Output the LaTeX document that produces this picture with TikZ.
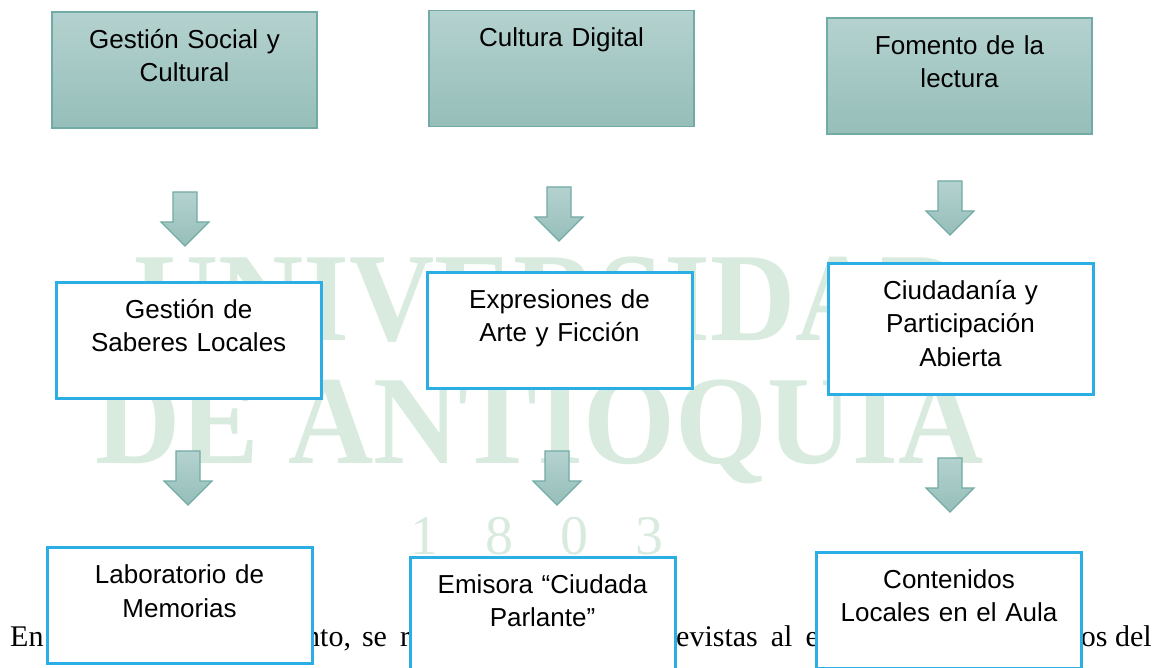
\documentclass[tikz,border=0pt]{standalone}
\usepackage{fontspec}
\setmainfont{Liberation Serif}
\newfontfamily\boxfont{Liberation Sans}
\usepackage{tikz}
\definecolor{CTealTop}{HTML}{B4D2CF}
\definecolor{CTealBot}{HTML}{96BEB9}
\definecolor{CTealLine}{HTML}{72ABA5}
\definecolor{CBlue}{HTML}{2AAEE4}
\definecolor{CMark}{HTML}{D8EBDE}

\begin{document}
\begin{tikzpicture}[inner sep=0pt,
  topbox/.style={minimum width=265pt, top color=CTealTop, bottom color=CTealBot, draw=CTealLine, line width=1.5pt, align=center, text width=265pt, text height=36.3pt, text depth=79.7pt, font=\boxfont\fontsize{26}{33.5}\selectfont},
  subbox/.style={minimum width=265pt, fill=white, draw=CBlue, line width=3pt, align=center, text width=265pt, text height=36.3pt, text depth=79.7pt, font=\boxfont\fontsize{26}{33.5}\selectfont},
  arrowblock/.style={top color=CTealTop, bottom color=CTealBot, draw=CTealLine, line width=1.2pt},
  watermark/.style={text=CMark, font=\bfseries\fontsize{118}{118}\selectfont},
  yearmark/.style={text=CMark, font=\fontsize{56}{56}\selectfont},
  bodytext/.style={font=\fontsize{30}{36}\selectfont}]
\useasboundingbox (0pt,0pt) rectangle (1166pt,-668pt);

% watermark and running text behind the chart
\node (w1) [watermark, anchor=base west, at={(133pt,-340pt)}] {\scalebox{1}[1.07]{UNIVERSIDAD}};
\node (w2) [watermark, anchor=base west, at={(95pt,-463pt)}] {\scalebox{1}[1.07]{DE ANTIOQUIA}};
\node (w3) [yearmark, anchor=base west, at={(410pt,-554pt)}] {1\hspace{47pt}8\hspace{47pt}0\hspace{47pt}3};

\node (t1) [bodytext, anchor=base west, at={(10pt,-646pt)}] {En};
\node (t2) [bodytext, anchor=base west, at={(305pt,-646pt)}] {nto,\hspace{11pt}se\hspace{13pt}r};
\node (t3) [bodytext, anchor=base west, at={(676pt,-646pt)}] {evistas\hspace{13pt}al\hspace{13pt}e};
\node (t4) [bodytext, anchor=base east, at={(1152pt,-646pt)}] {os del};

% top row
\node (b1) [topbox, at={(184.5pt,-69.8pt)}] {Gestión Social y\\Cultural};
\node (b2) [topbox, at={(561.5pt,-68.5pt)}] {Cultura Digital};
\node (b3) [topbox, at={(959.5pt,-76pt)}] {Fomento de la\hspace*{15pt}\\lectura\hspace*{15pt}};

% middle row
\node (b4) [subbox, at={(188.7pt,-340pt)}] {Gestión de\\Saberes Locales};
\node (b5) [subbox, at={(559.5pt,-330pt)}] {Expresiones de\\Arte y Ficción};
\node (b6) [subbox, text depth=94.7pt, at={(960.5pt,-328.5pt)}] {Ciudadanía y\\Participación\\Abierta};

% bottom row
\node (b7) [subbox, at={(179.5pt,-605.5pt)}] {Laboratorio de\\Memorias};
\node (b8) [subbox, at={(542.5pt,-615pt)}] {Emisora “Ciudada\\Parlante”};
\node (b9) [subbox, at={(949pt,-610pt)}] {Contenidos\\Locales en el Aula};

% block arrows
\coordinate (a1) at (185pt,-192pt);
\coordinate (a2) at (559pt,-187pt);
\coordinate (a3) at (950pt,-181pt);
\coordinate (a4) at (188pt,-451pt);
\coordinate (a5) at (557pt,-451pt);
\coordinate (a6) at (950pt,-458pt);
\path [arrowblock] (a1) -- ++(12pt,0pt) -- ++(0pt,-30pt) -- ++(12pt,0pt) -- ++(-24pt,-24pt) -- ++(-24pt,24pt) -- ++(12pt,0pt) -- ++(0pt,30pt) -- cycle;
\path [arrowblock] (a2) -- ++(12pt,0pt) -- ++(0pt,-30pt) -- ++(12pt,0pt) -- ++(-24pt,-24pt) -- ++(-24pt,24pt) -- ++(12pt,0pt) -- ++(0pt,30pt) -- cycle;
\path [arrowblock] (a3) -- ++(12pt,0pt) -- ++(0pt,-30pt) -- ++(12pt,0pt) -- ++(-24pt,-24pt) -- ++(-24pt,24pt) -- ++(12pt,0pt) -- ++(0pt,30pt) -- cycle;
\path [arrowblock] (a4) -- ++(12pt,0pt) -- ++(0pt,-30pt) -- ++(12pt,0pt) -- ++(-24pt,-24pt) -- ++(-24pt,24pt) -- ++(12pt,0pt) -- ++(0pt,30pt) -- cycle;
\path [arrowblock] (a5) -- ++(12pt,0pt) -- ++(0pt,-30pt) -- ++(12pt,0pt) -- ++(-24pt,-24pt) -- ++(-24pt,24pt) -- ++(12pt,0pt) -- ++(0pt,30pt) -- cycle;
\path [arrowblock] (a6) -- ++(12pt,0pt) -- ++(0pt,-30pt) -- ++(12pt,0pt) -- ++(-24pt,-24pt) -- ++(-24pt,24pt) -- ++(12pt,0pt) -- ++(0pt,30pt) -- cycle;
\end{tikzpicture}
\end{document}
